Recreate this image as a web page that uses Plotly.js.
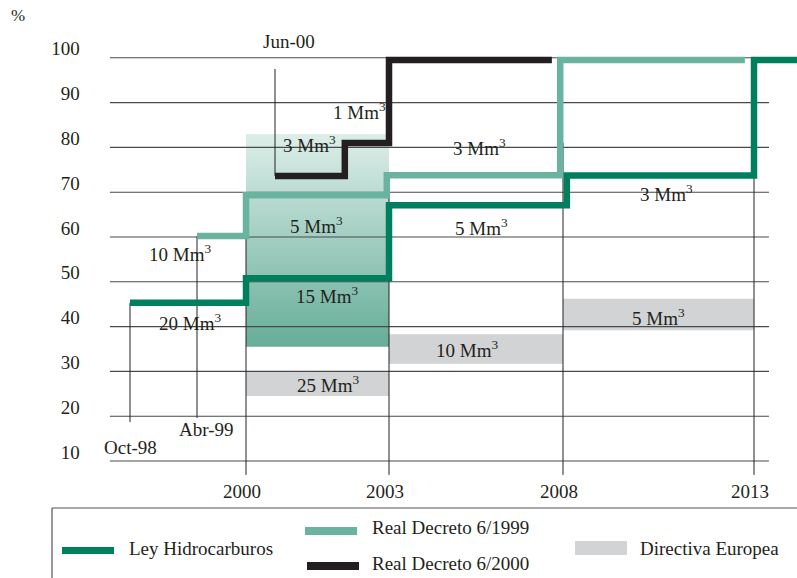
<!DOCTYPE html>
<html><head><meta charset="utf-8">
<script src="https://cdn.plot.ly/plotly-3.0.1.min.js"></script>
<style>html,body{margin:0;padding:0;background:#fff}#chart{width:797px;height:578px}</style>
</head><body><div id="chart"></div>
<script>
// ---- Schematic (stretched) timeline: decimal year -> position on horizontal scale
const scaleYears = [1998.75, 1999.25, 2000, 2000.42, 2003, 2008, 2013, 2014.2];
const scalePos   = [130, 197, 246, 275, 389, 563, 754, 800];

// ---- Step series (time of change, % reached)
const leyTimes     = [1998.75, 2000, 2003, 2008.1, 2013, 2014.2];
const leyValues    = [45.3, 50.8, 67.1, 73.7, 99.5, 99.5];
const rd1999Times  = [1999.25, 2000, 2002.95, 2007.92, 2012.76];
const rd1999Values = [60.2, 69.3, 73.8, 99.5, 99.5];
const rd2000Times  = [2000.42, 2002.0, 2003, 2007.68];
const rd2000Values = [73.6, 81, 99.5, 99.5];

// ---- Shaded ranges
const rdBandStart = [2000], rdBandEnd = [2003], rdBandLow = [35.5], rdBandHigh = [83];
const dirStart = [2000, 2003, 2008];
const dirEnd   = [2003, 2008, 2013];
const dirLow   = [24.5, 31.7, 39.2];
const dirHigh  = [30.1, 38.3, 46.2];

// ---- Volume labels
const volText   = ['1 Mm<sup>3</sup>','3 Mm<sup>3</sup>','3 Mm<sup>3</sup>','5 Mm<sup>3</sup>','5 Mm<sup>3</sup>','3 Mm<sup>3</sup>','10 Mm<sup>3</sup>','15 Mm<sup>3</sup>','20 Mm<sup>3</sup>','25 Mm<sup>3</sup>','10 Mm<sup>3</sup>','5 Mm<sup>3</sup>'];
const volTimes  = [2002.34, 2001.21, 2005.61, 2001.35, 2005.67, 2010.70, 1999.12, 2001.60, 1999.20, 2001.62, 2005.24, 2010.51];
const volValues = [88.1, 80.8, 80.1, 62.7, 62.2, 69.8, 56.4, 47.0, 41.0, 27.2, 35.0, 42.2];

// ---- Milestone labels and marker lines
const milestoneText   = ['Jun-00', 'Oct-98', 'Abr-99'];
const milestoneTimes  = [2000.74, 1998.75, 1999.39];
const milestoneValues = [103.6, 13.1, 17.1];
const markTimes  = [1998.75, 1999.25, 2000.42, 2000, 2003, 2008, 2013];
const markTop    = [45.3, 60.2, 97.5, 60.2, 69.3, 81, 73.7];
const markBottom = [18.7, 19.6, 73.6, 6.9, 6.9, 6.9, 6.9];

// ---- Axes
const gridValues = [10, 20, 30, 40, 50, 60, 70, 80, 90, 100];
const gridStart = 1998.6, gridEnd = 2013.39;
const yearTicks = [2000, 2003, 2008, 2013];
const yearTickText = ['2000', '2003', '2008', '2013'];

const FONT = 'Liberation Serif, Times New Roman, serif';
const TXT = '#231f20';
const C_LEY = '#007f5f', C_RD99 = '#6ab3a0', C_RD00 = '#231f20', C_DIR = '#d1d3d4';

function warp(t) {
  let i = 0;
  while (i < scaleYears.length - 2 && t > scaleYears[i + 1]) i++;
  const t0 = scaleYears[i], t1 = scaleYears[i + 1];
  return scalePos[i] + (t - t0) / (t1 - t0) * (scalePos[i + 1] - scalePos[i]);
}

function boxTrace(s, e, lo, hi, extra) {
  const x = [], y = [];
  for (let i = 0; i < s.length; i++) {
    x.push(warp(s[i]), warp(e[i]), warp(e[i]), warp(s[i]), warp(s[i]), null);
    y.push(lo[i], lo[i], hi[i], hi[i], lo[i], null);
  }
  return Object.assign({x, y, type: 'scatter', mode: 'lines', fill: 'toself', line: {width: 0}, hoverinfo: 'skip'}, extra);
}

const traces = [];
traces.push(boxTrace(dirStart, dirEnd, dirLow, dirHigh, {name: 'Directiva Europea', fillcolor: C_DIR}));
traces.push(boxTrace(rdBandStart, rdBandEnd, rdBandLow, rdBandHigh, {
  name: 'Real Decreto', fillcolor: '#a3cfc2',
  fillgradient: {type: 'vertical', colorscale: [[0, '#66ad98'], [1, '#ddeee9']]}
}));

// gridlines
const gx = [], gy = [];
gridValues.forEach(v => { gx.push(warp(gridStart), warp(gridEnd), null); gy.push(v, v, null); });
traces.push({x: gx, y: gy, type: 'scatter', mode: 'lines', line: {color: '#4a4a4a', width: 1.1}, hoverinfo: 'skip'});
// milestone marker lines
const mx = [], my = [];
markTimes.forEach((t, i) => { mx.push(warp(t), warp(t), null); my.push(markTop[i], markBottom[i], null); });
traces.push({x: mx, y: my, type: 'scatter', mode: 'lines', line: {color: '#222', width: 1}, hoverinfo: 'skip'});

function stepTrace(times, vals, color, name) {
  return {x: times.map(warp), y: vals, type: 'scatter', mode: 'lines', name,
    line: {shape: 'hv', color, width: 6.5}, hoverinfo: 'skip'};
}
traces.push(stepTrace(rd2000Times, rd2000Values, C_RD00, 'Real Decreto 6/2000'));
traces.push(stepTrace(rd1999Times, rd1999Values, C_RD99, 'Real Decreto 6/1999'));
traces.push(stepTrace(leyTimes, leyValues, C_LEY, 'Ley Hidrocarburos'));

const annotations = [];
volText.forEach((t, i) => annotations.push({x: warp(volTimes[i]), y: volValues[i], xref: 'x', yref: 'y',
  text: t, showarrow: false, xanchor: 'center', yanchor: 'middle', font: {family: FONT, size: 19, color: TXT}}));
milestoneText.forEach((t, i) => annotations.push({x: warp(milestoneTimes[i]), y: milestoneValues[i], xref: 'x', yref: 'y',
  text: t, showarrow: false, xanchor: 'center', yanchor: 'middle', font: {family: FONT, size: 19, color: TXT}}));

// paper coordinates helpers (plot area = top 478 px)
const PH = 478;
const px = p => p / 797, py = p => (PH - p) / PH;
annotations.push({x: px(18), y: py(16), xref: 'paper', yref: 'paper', text: '%', showarrow: false,
  xanchor: 'center', yanchor: 'middle', font: {family: FONT, size: 17, color: TXT}});

// legend
const legendItems = [
  {label: 'Ley Hidrocarburos', color: C_LEY, sx0: 62, sx1: 114, sy0: 547, sy1: 554, tx: 127, ty: 548},
  {label: 'Real Decreto 6/1999', color: C_RD99, sx0: 305, sx1: 357, sy0: 527, sy1: 535, tx: 370, ty: 527},
  {label: 'Real Decreto 6/2000', color: C_RD00, sx0: 307, sx1: 359, sy0: 562, sy1: 570, tx: 370, ty: 563},
  {label: 'Directiva Europea', color: C_DIR, sx0: 575, sx1: 627, sy0: 541, sy1: 555, tx: 638, ty: 548}
];
const shapes = [
  {type: 'line', xref: 'paper', yref: 'paper', x0: px(52), x1: px(800), y0: py(508), y1: py(508), line: {color: '#555', width: 1.2}},
  {type: 'line', xref: 'paper', yref: 'paper', x0: px(52), x1: px(52), y0: py(508), y1: py(580), line: {color: '#555', width: 1.2}}
];
legendItems.forEach(it => {
  shapes.push({type: 'rect', xref: 'paper', yref: 'paper', x0: px(it.sx0), x1: px(it.sx1), y0: py(it.sy0), y1: py(it.sy1),
    fillcolor: it.color, line: {width: 0}});
  annotations.push({x: px(it.tx), y: py(it.ty), xref: 'paper', yref: 'paper', text: it.label, showarrow: false,
    xanchor: 'left', yanchor: 'middle', font: {family: FONT, size: 19, color: TXT}});
});

const layout = {
  width: 797, height: 578,
  margin: {l: 0, r: 0, t: 0, b: 578 - PH, pad: 0},
  paper_bgcolor: '#fff', plot_bgcolor: 'rgba(0,0,0,0)',
  showlegend: false,
  xaxis: {range: [0, 797], showgrid: false, zeroline: false, showline: false, ticks: '',
    tickvals: yearTicks.map(warp), ticktext: yearTickText, ticklabelshift: -4,
    tickfont: {family: FONT, size: 19, color: TXT}, fixedrange: true},
  yaxis: {range: [6.2, 112.9], anchor: 'free', position: 0.1, showgrid: false, zeroline: false, showline: false,
    ticks: '', tickvals: gridValues, ticktext: gridValues.map(String), ticklabelshift: -9,
    tickfont: {family: FONT, size: 19, color: TXT}, fixedrange: true},
  annotations, shapes
};

Plotly.newPlot('chart', traces, layout, {staticPlot: true, displayModeBar: false});
</script></body></html>
